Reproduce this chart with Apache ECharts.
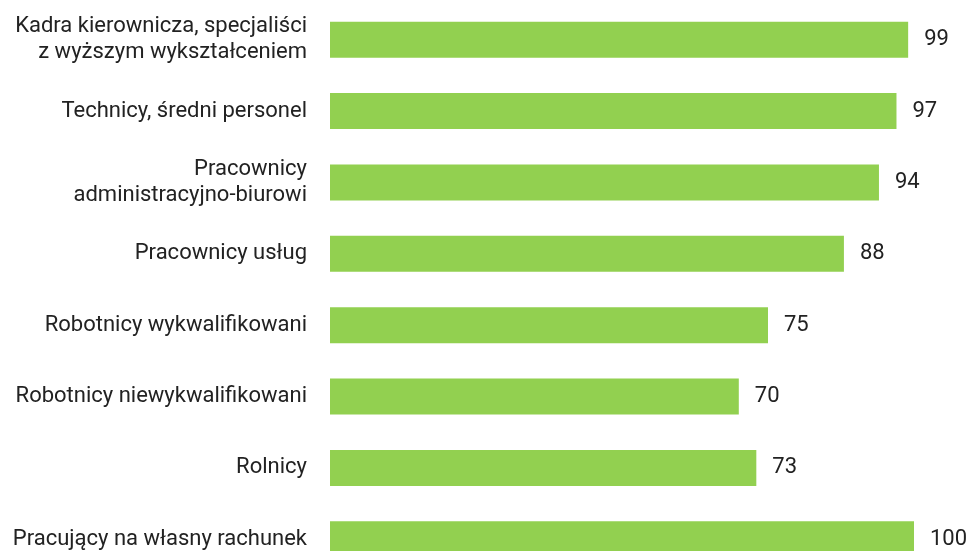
<!DOCTYPE html>
<html>
<head>
<meta charset="utf-8">
<script src="https://cdn.jsdelivr.net/npm/echarts@6/dist/echarts.min.js"></script>
<style>
html,body{margin:0;padding:0;background:#fff;overflow:hidden;}
#chart{width:970px;height:580px;}
</style>
</head>
<body>
<div id="chart"></div>
<script>
const categories = [
  "Kadra kierownicza, specjaliści\nz wyższym wykształceniem",
  "Technicy, średni personel",
  "Pracownicy\nadministracyjno-biurowi",
  "Pracownicy usług",
  "Robotnicy wykwalifikowani",
  "Robotnicy niewykwalifikowani",
  "Rolnicy",
  "Pracujący na własny rachunek"
];
const values = [99, 97, 94, 88, 75, 70, 73, 100];

const chart = echarts.init(document.getElementById('chart'));
chart.setOption({
  animation: false,
  grid: { left: 330, top: 4, width: 584, height: 571 },
  xAxis: { type: 'value', min: 0, max: 100, show: false },
  yAxis: {
    type: 'category',
    data: categories,
    inverse: true,
    axisLine: { show: false },
    axisTick: { show: false },
    axisLabel: {
      margin: 23,
      fontFamily: 'Roboto',
      fontSize: 22,
      color: '#222',
      lineHeight: 26,
      align: 'right'
    }
  },
  series: [{
    type: 'bar',
    data: values,
    barWidth: 36,
    itemStyle: { color: '#92d050' },
    label: {
      show: true,
      position: 'right',
      distance: 16,
      fontFamily: 'Roboto',
      fontSize: 22,
      color: '#222'
    }
  }]
});
</script>
</body>
</html>
